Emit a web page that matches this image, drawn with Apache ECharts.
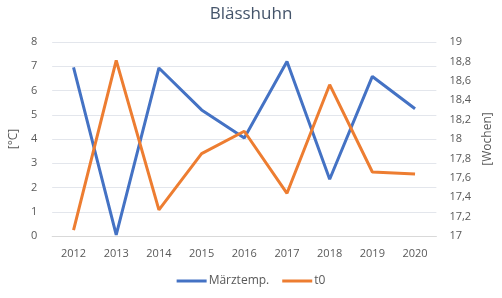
<!DOCTYPE html>
<html><head><meta charset="utf-8">
<script src="https://cdn.jsdelivr.net/npm/echarts@6/dist/echarts.min.js"></script>
<style>html,body{margin:0;padding:0;background:#fff}#c{width:502px;height:298px}</style>
</head><body><div id="c"></div>
<script>
const years = ['2012','2013','2014','2015','2016','2017','2018','2019','2020'];
const maerztemp = [6.95, 0.05, 6.93, 5.2, 4.04, 7.2, 2.34, 6.58, 5.25];
const t0 = [17.06, 18.81, 17.27, 17.85, 18.08, 17.44, 18.56, 17.66, 17.64];
const seriesNames = ['Märztemp.', 't0'];
const chart = echarts.init(document.getElementById('c'));
const txt = '#595959';
const font = 'Open Sans';
chart.setOption({
  animation: false,
  title: { text: 'Blässhuhn', left: 'center', top: 1, textStyle: { fontFamily: font, fontSize: 17, fontWeight: 'normal', color: '#44546A' } },
  grid: { left: 47, right: 63, top: 42, bottom: 62 },
  legend: { bottom: 6, left: 'center', itemWidth: 30, itemHeight: 3, itemGap: 13, icon: 'rect',
    textStyle: { fontFamily: font, fontSize: 12, color: txt, padding: [0, 0, 0, -3] } },
  xAxis: { type: 'category', data: years, boundaryGap: true,
    axisLine: { lineStyle: { color: '#D9D9D9' } }, axisTick: { show: false },
    axisLabel: { fontFamily: font, fontSize: 11, color: txt, margin: 12 } },
  yAxis: [
    { type: 'value', min: 0, max: 8, interval: 1, name: '[°C]', nameLocation: 'middle', nameGap: 21, nameRotate: 90,
      nameTextStyle: { fontFamily: font, fontSize: 12, color: txt },
      axisLabel: { fontFamily: font, fontSize: 11, color: txt, margin: 15 },
      splitLine: { lineStyle: { color: '#E3E6EC' } }, axisLine: { show: false }, axisTick: { show: false } },
    { type: 'value', min: 17, max: 19, interval: 0.2, name: '[Wochen]', nameLocation: 'middle', nameGap: 36, nameRotate: 90,
      nameTextStyle: { fontFamily: font, fontSize: 12, color: txt },
      axisLabel: { fontFamily: font, fontSize: 11, color: txt, margin: 13,
        formatter: v => String(Math.round(v * 10) / 10).replace('.', ',') },
      splitLine: { show: false }, axisLine: { show: false }, axisTick: { show: false } }
  ],
  series: [
    { name: seriesNames[0], type: 'line', yAxisIndex: 0, data: maerztemp, symbol: 'none',
      lineStyle: { width: 3, color: '#4472C4' }, itemStyle: { color: '#4472C4' } },
    { name: seriesNames[1], type: 'line', yAxisIndex: 1, data: t0, symbol: 'none',
      lineStyle: { width: 3, color: '#ED7D31' }, itemStyle: { color: '#ED7D31' } }
  ]
});
</script></body></html>
